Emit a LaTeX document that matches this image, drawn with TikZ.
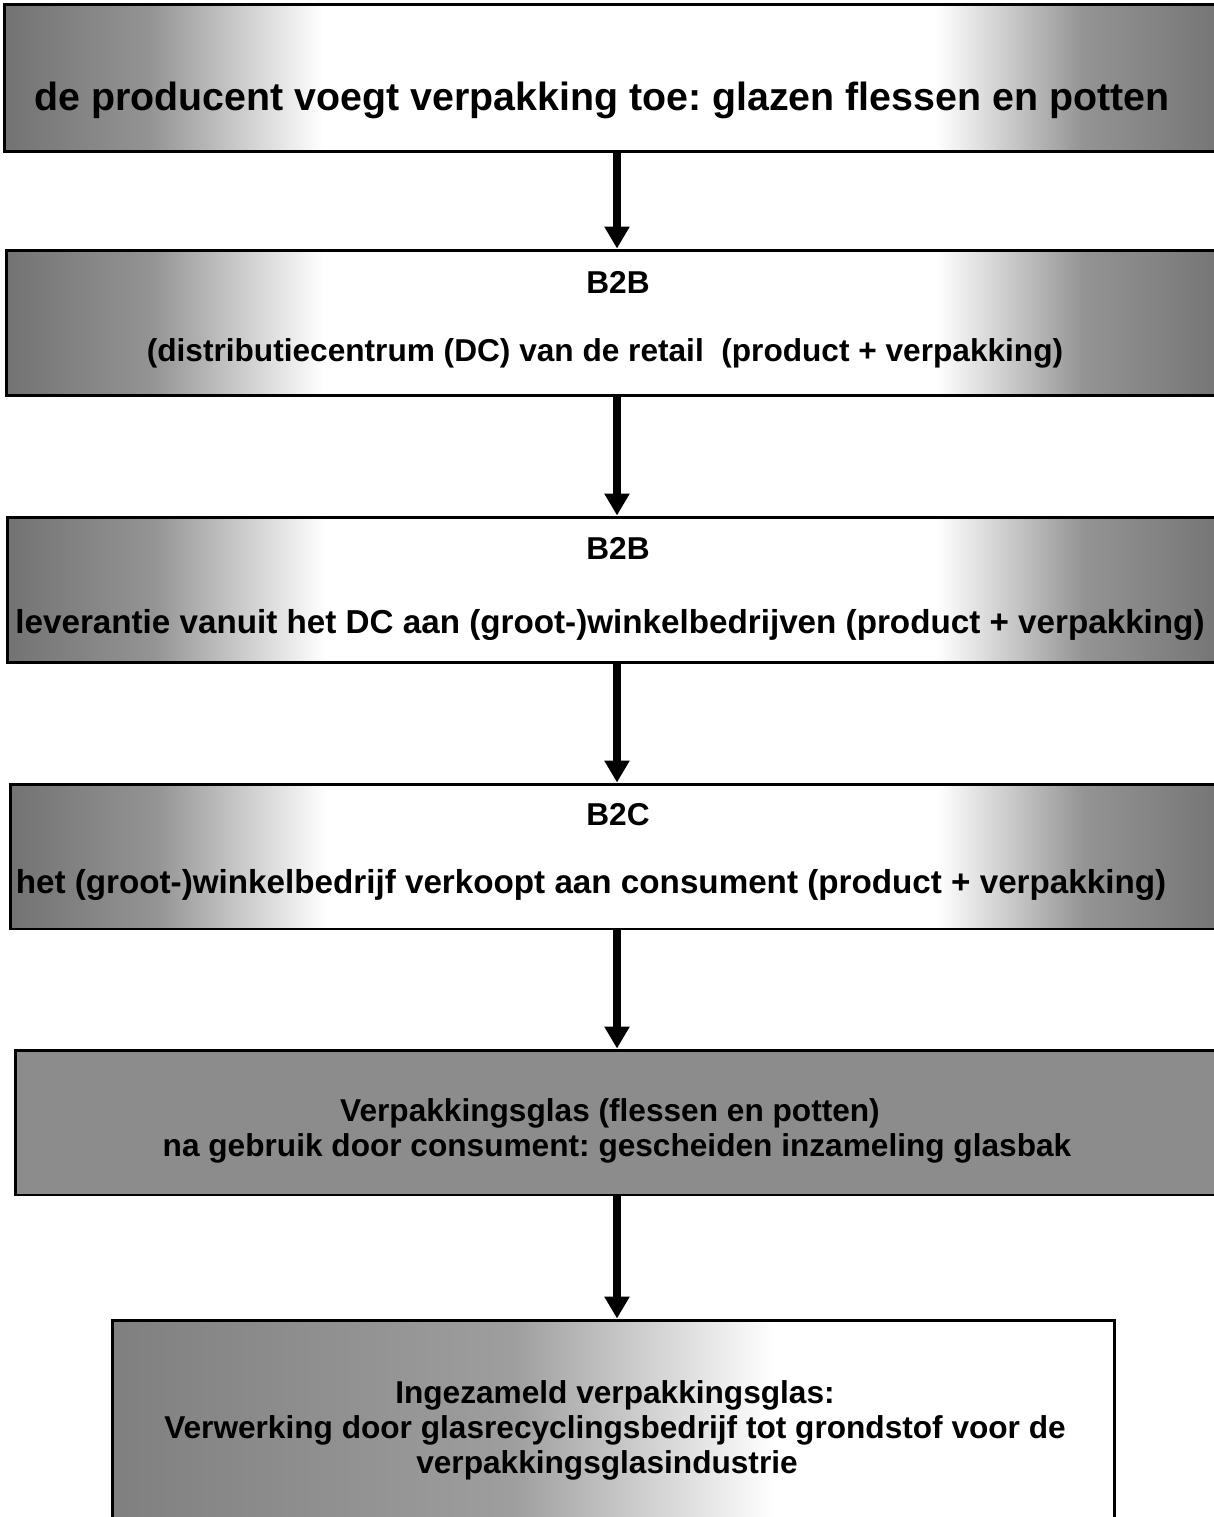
\documentclass[tikz,border=0pt]{standalone}
\usepackage{fontspec}
\setmainfont{Liberation Sans}
\frenchspacing
\usetikzlibrary{arrows.meta}
% shading 0..100bp, the path is fitted onto 25..75bp
\pgfdeclarehorizontalshading{edgefade}{100bp}{color(0bp)=(black!55); color(25bp)=(black!55); color(31bp)=(black!42); color(38bp)=(white); color(63bp)=(white); color(69bp)=(black!42); color(75bp)=(black!55); color(100bp)=(black!55)}
\pgfdeclarehorizontalshading{leftfade}{100bp}{color(0bp)=(black!50); color(25bp)=(black!50); color(45bp)=(black!38); color(58bp)=(white); color(75bp)=(white); color(100bp)=(white)}
\tikzset{
  boxbase/.style={draw=black, line width=1.7pt, rectangle, inner sep=0pt},
  fadebox/.style={boxbase, shading=edgefade},
  greybox/.style={boxbase, fill=black!45},
  lastbox/.style={boxbase, shading=leftfade},
  bigtxt/.style={font=\fontsize{22.4}{26}\selectfont\bfseries, inner sep=0pt},
  txt/.style={font=\fontsize{18}{21}\selectfont\bfseries, inner sep=0pt},
  widetxt/.style={font=\fontsize{18.9}{22}\selectfont\bfseries, inner sep=0pt},
  arr/.style={line width=4.5pt, -{Triangle[width=0.48cm,length=0.44cm]}}
}
\begin{document}
\begin{tikzpicture}[x=0.02cm,y=-0.02cm]
\useasboundingbox (0,0) rectangle (1213,1517);
\node[fadebox, minimum width=24.52cm, minimum height=2.96cm] (b1) at (617,78) {};
\node[fadebox, minimum width=24.48cm, minimum height=2.92cm] (b2) at (618,323) {};
\node[fadebox, minimum width=24.46cm, minimum height=2.92cm] (b3) at (618.5,590) {};
\node[fadebox, minimum width=24.40cm, minimum height=2.90cm] (b4) at (620,856.5) {};
\node[greybox, minimum width=24.30cm, minimum height=2.90cm] (b5) at (622.5,1122.5) {};
\node[lastbox, minimum width=20.06cm, minimum height=4.20cm] (b6) at (613.5,1425) {};

\node[bigtxt] (t1) at (602,100) {de producent voegt verpakking toe: glazen flessen en potten};
\node[txt] (t2a) at (618,282) {B2B};
\node[txt] (t2b) at (605,353) {(distributiecentrum (DC) van de retail \ (product + verpakking)};
\node[txt] (t3a) at (618,548) {B2B};
\node[widetxt] (t3b) at (610,625) {leverantie vanuit het DC aan (groot-)winkelbedrijven (product + verpakking)};
\node[txt] (t4a) at (618,815) {B2C};
\node[widetxt] (t4b) at (591,885) {het (groot-)winkelbedrijf verkoopt aan consument (product + verpakking)};
\node[txt] (t5a) at (610,1113) {Verpakkingsglas (flessen en potten)};
\node[txt] (t5b) at (617,1148) {na gebruik door consument: gescheiden inzameling glasbak};
\node[txt] (t6a) at (615,1395) {Ingezameld verpakkingsglas:};
\node[txt] (t6b) at (615,1430) {Verwerking door glasrecyclingsbedrijf tot grondstof voor de};
\node[txt] (t6c) at (607,1465) {verpakkingsglasindustrie};

\coordinate (ax) at (617,0);
\draw[arr] (b1.south -| ax) -- (b2.north -| ax);
\draw[arr] (b2.south -| ax) -- (b3.north -| ax);
\draw[arr] (b3.south -| ax) -- (b4.north -| ax);
\draw[arr] (b4.south -| ax) -- (b5.north -| ax);
\draw[arr] (b5.south -| ax) -- (b6.north -| ax);
\end{tikzpicture}
\end{document}
